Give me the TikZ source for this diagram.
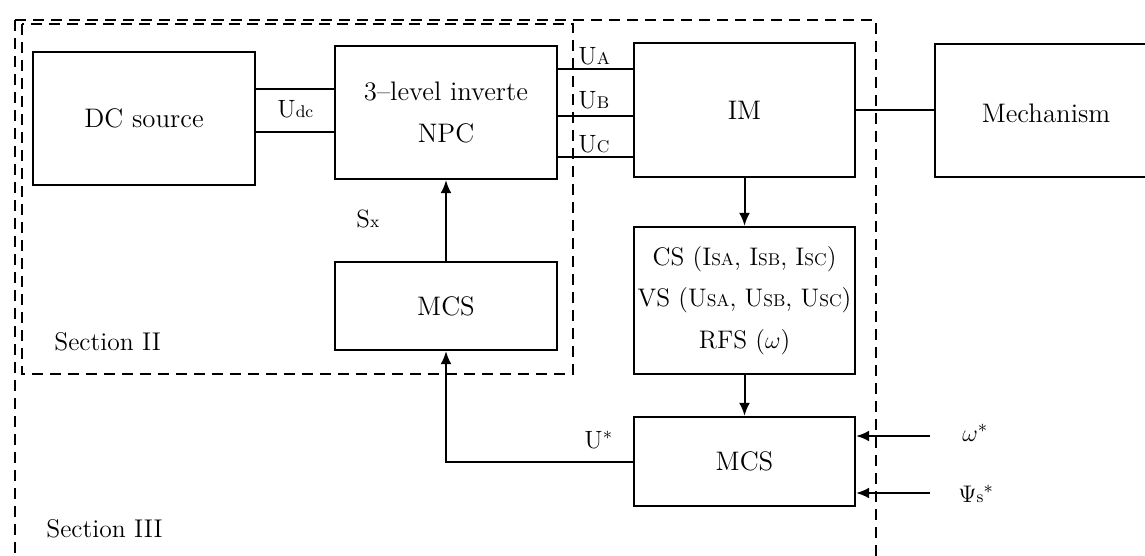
\documentclass[tikz,border=0pt]{standalone}
\usetikzlibrary{arrows.meta}
% small letters set on the baseline, used for indices such as U_A, U_dc
\newcommand\idx[1]{{\fontsize{8.5}{9}\selectfont #1}}
\begin{document}
\begin{tikzpicture}[x=0.5pt,y=-0.5pt,
  blk/.style={draw, line width=1.2pt, inner sep=0pt, align=center,
              font=\fontsize{13.4}{21}\selectfont},
  wire/.style={line width=1pt},
  arr/.style={line width=1pt, -{Latex[length=6.5pt,width=5.5pt]}},
  sect/.style={line width=1pt, dash pattern=on 5.5pt off 3.5pt},
  lbl/.style={font=\fontsize{12.5}{14}\selectfont, inner sep=0pt, anchor=base west},
  seclbl/.style={font=\fontsize{12.8}{14}\selectfont, inner sep=0pt, anchor=base west}]
\useasboundingbox (0,0) rectangle (1145,556);

% section frames (they run past the lower edge)
\draw[sect] (15,20) -- (15,570);
\draw[sect] (15,20) -- (876,20) -- (876,570);
\draw[sect] (22,24) rectangle (573,374);

% blocks
\node[blk, minimum width=111pt, minimum height=66.5pt] (dc)   at (144,118.5) {DC source};
\node[blk, minimum width=111pt, minimum height=66.5pt] (inv)  at (446,112.5) {3--level inverte\\NPC};
\node[blk, minimum width=110.5pt, minimum height=67pt] (im)   at (744.5,110) {IM};
\node[blk, minimum width=150pt, minimum height=66.5pt] (mech) at (1085,110.5) {};
\node[font=\fontsize{13.4}{21}\selectfont, inner sep=0pt] (mechtxt) at (1046,113) {Mechanism};
\node[blk, minimum width=111pt, minimum height=44pt]   (mcs1) at (446,306) {MCS};
\node[blk, minimum width=110.5pt, minimum height=73.5pt, font=\fontsize{12.7}{20.75}\selectfont] (cs) at (744.5,300.5)
  {CS (I\idx{SA}, I\idx{SB}, I\idx{SC})\\VS (U\idx{SA}, U\idx{SB}, U\idx{SC})\\RFS ($\omega$)};
\node[blk, minimum width=110.5pt, minimum height=44.5pt] (mcs2) at (744.5,461.5) {MCS};

% helper levels
\coordinate (d1) at (0,89);
\coordinate (d2) at (0,132);
\coordinate (pa) at (0,69);
\coordinate (pb) at (0,116);
\coordinate (pc) at (0,157);
\coordinate (win) at (930,436);
\coordinate (pin) at (930,493);

% DC link
\draw[wire] (dc.east |- d1) -- (inv.west |- d1);
\draw[wire] (dc.east |- d2) -- (inv.west |- d2);
% three phases
\draw[wire] (inv.east |- pa) -- (im.west |- pa);
\draw[wire] (inv.east |- pb) -- (im.west |- pb);
\draw[wire] (inv.east |- pc) -- (im.west |- pc);
% shaft
\draw[wire] (im.east) -- (im.east -| mech.west);
% signal flow
\draw[arr] (im.south) -- (cs.north);
\draw[arr] (cs.south) -- (mcs2.north);
\draw[arr] (mcs2.west) -- (mcs2.west -| mcs1.south) -- (mcs1.south);
\draw[arr] (mcs1.north) -- (inv.south);
\draw[arr] (win) -- (win -| mcs2.east);
\draw[arr] (pin) -- (pin -| mcs2.east);

% labels
\node[lbl] (udc) at (277,118) {U\idx{dc}};
\node[lbl] (ua) at (578,65) {U\idx{A}};
\node[lbl] (ub) at (578,109) {U\idx{B}};
\node[lbl] (uc) at (578,152) {U\idx{C}};
\node[lbl] (sx) at (356,227) {S\idx{x}};
\node[lbl] (ust) at (584,448) {U$^{*}$};
\node[lbl] (wst) at (962,441) {$\omega^{*}$};
\node[lbl] (pst) at (958,502) {$\Psi$\idx{s}$^{*}$};
\node[seclbl] (s2) at (54,350) {Section II};
\node[seclbl] (s3) at (46,537) {Section III};
\end{tikzpicture}
\end{document}
